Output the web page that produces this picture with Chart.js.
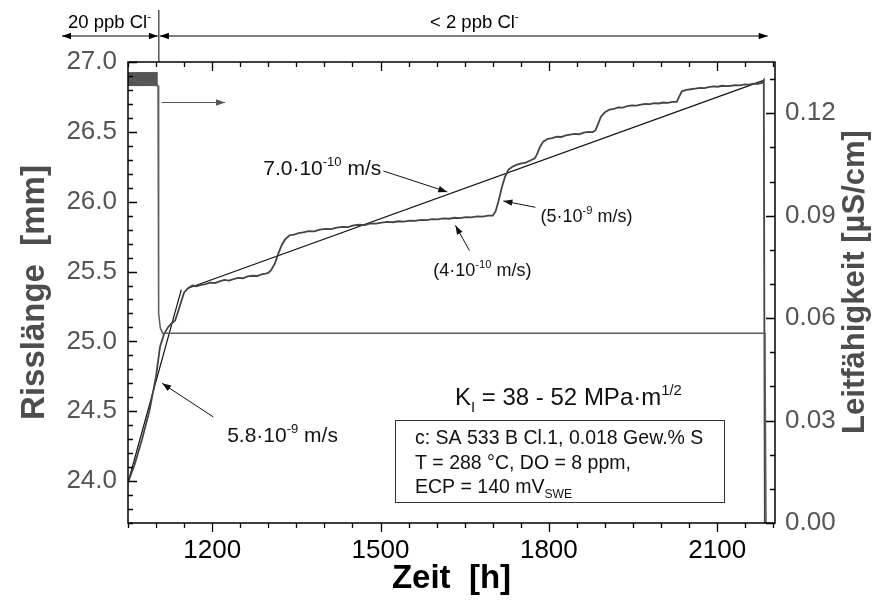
<!DOCTYPE html>
<html>
<head>
<meta charset="utf-8">
<script src="https://cdn.jsdelivr.net/npm/chart.js@4.4.1/dist/chart.umd.min.js"></script>
<style>
  html, body { margin: 0; padding: 0; background: #fff; }
  #wrap { width: 889px; height: 602px; }
</style>
</head>
<body>
<div id="wrap"><canvas id="c" width="889" height="602"></canvas></div>
<script>
// Risslänge gegen Zeit
const crackTime = [1050, 1062, 1075, 1088, 1100, 1107, 1114, 1121, 1128, 1134, 1139, 1146, 1150, 1157,
  1165, 1172, 1180, 1188, 1196, 1205, 1213, 1222, 1230, 1238, 1246, 1255, 1263, 1272, 1280, 1288, 1295, 1300,
  1305, 1312, 1318, 1324, 1330, 1338, 1346, 1354, 1362,
  1372, 1382, 1392, 1402, 1412, 1422, 1432, 1442, 1452, 1462, 1472, 1482, 1492, 1502, 1512, 1522, 1532,
  1542, 1552, 1562, 1572, 1582, 1592, 1602, 1612, 1622, 1632, 1642, 1652, 1662, 1672, 1682, 1692, 1700,
  1705, 1710, 1716, 1722, 1728, 1735, 1743, 1751, 1759, 1767, 1775,
  1779, 1784, 1790, 1798, 1806, 1814, 1822, 1830, 1838, 1846, 1854, 1862, 1870, 1878, 1883,
  1887, 1893, 1900, 1908, 1916, 1924, 1932, 1940, 1948, 1956, 1964, 1972, 1980, 1988, 1996, 2004, 2012, 2020, 2028,
  2032, 2037, 2045, 2053, 2061, 2069, 2077, 2085, 2093, 2101, 2109, 2117, 2125, 2133, 2141, 2149, 2157, 2165, 2173, 2180, 2183, 2185];
const crackLength = [23.99, 24.12, 24.30, 24.50, 24.75, 24.96, 25.05, 25.10, 25.13, 25.15, 25.21, 25.30, 25.35, 25.38,
  25.40, 25.395, 25.405, 25.41, 25.42, 25.418, 25.43, 25.44, 25.435, 25.445, 25.455, 25.452, 25.465, 25.47, 25.468, 25.48, 25.485, 25.49,
  25.51, 25.56, 25.63, 25.69, 25.73, 25.76, 25.765, 25.775, 25.78,
  25.79, 25.787, 25.80, 25.805, 25.803, 25.815, 25.82, 25.818, 25.83, 25.835, 25.833, 25.845, 25.843, 25.85, 25.855, 25.853, 25.86,
  25.858, 25.865, 25.863, 25.87, 25.868, 25.875, 25.873, 25.88, 25.878, 25.885, 25.883, 25.89, 25.888, 25.895, 25.893, 25.90, 25.90,
  25.93, 26.00, 26.10, 26.18, 26.23, 26.25, 26.265, 26.275, 26.28, 26.295, 26.31,
  26.34, 26.39, 26.43, 26.45, 26.455, 26.465, 26.463, 26.475, 26.48, 26.485, 26.483, 26.495, 26.50, 26.498, 26.51,
  26.55, 26.61, 26.64, 26.66, 26.665, 26.675, 26.673, 26.685, 26.69, 26.688, 26.695, 26.70, 26.698, 26.705, 26.703, 26.71, 26.708, 26.715, 26.715,
  26.75, 26.79, 26.80, 26.805, 26.81, 26.815, 26.813, 26.82, 26.825, 26.823, 26.83, 26.828, 26.83, 26.835, 26.833, 26.84, 26.838, 26.845, 26.843, 26.85, 26.87, 23.5];

// Ausgleichsgeraden
const fitFastTime = [1050, 1145];
const fitFastLength = [23.99, 25.37];
const fitSlowTime = [1157, 2184];
const fitSlowLength = [25.38, 26.87];

// Leitfähigkeit [µS/cm]
const condTime = [1050, 1103.5, 1104.6, 1107.6, 1111.7, 2185, 2187];
const condValue = [0.130, 0.128, 0.0615, 0.0571, 0.0556, 0.0556, 0.0];
const condBandTime = [1050, 1103];
const condBandValue = [0.130, 0.130];

// Achsen
const timeTicks = [1200, 1500, 1800, 2100];
const lengthTicks = [24.0, 24.5, 25.0, 25.5, 26.0, 26.5, 27.0];
const condTicks = [0, 0.03, 0.06, 0.09, 0.12];

const FONT = "'Liberation Sans', Arial, sans-serif";
const pts = (xs, ys) => xs.map((x, i) => ({ x: x, y: ys[i] }));

function drawRich(ctx, parts, x, y, size, color) {
  ctx.fillStyle = color;
  ctx.textBaseline = 'alphabetic';
  ctx.textAlign = 'left';
  let cx = x;
  parts.forEach(([t, m]) => {
    const s = m ? size * 0.62 : size;
    ctx.font = s + 'px ' + FONT;
    const dy = m === 'sup' ? -size * 0.42 : (m === 'sub' ? size * 0.28 : 0);
    ctx.fillText(t, cx, y + dy);
    cx += ctx.measureText(t).width;
  });
}

function arrowHead(ctx, x1, y1, x2, y2) {
  const a = Math.atan2(y2 - y1, x2 - x1);
  const hl = 9, hw = 3.2;
  ctx.beginPath();
  ctx.moveTo(x2, y2);
  ctx.lineTo(x2 - Math.cos(a) * hl - Math.sin(a) * hw, y2 - Math.sin(a) * hl + Math.cos(a) * hw);
  ctx.lineTo(x2 - Math.cos(a) * hl + Math.sin(a) * hw, y2 - Math.sin(a) * hl - Math.cos(a) * hw);
  ctx.closePath();
  ctx.fill();
}

function drawArrow(ctx, x1, y1, x2, y2, color, both) {
  ctx.strokeStyle = color;
  ctx.fillStyle = color;
  ctx.lineWidth = 1;
  ctx.beginPath();
  ctx.moveTo(x1, y1);
  ctx.lineTo(x2, y2);
  ctx.stroke();
  arrowHead(ctx, x1, y1, x2, y2);
  if (both) arrowHead(ctx, x2, y2, x1, y1);
}

// Rahmen, Ticks und Beschriftungen
const decoPlugin = {
  id: 'deco',
  afterDraw(chart) {
    const ctx = chart.ctx;
    const a = chart.chartArea;
    const xs = chart.scales.x, ys = chart.scales.y, y2 = chart.scales.y2;
    ctx.save();

    // Rahmen
    ctx.strokeStyle = '#000';
    ctx.lineWidth = 1.5;
    ctx.strokeRect(a.left, a.top, a.right - a.left, a.bottom - a.top);

    ctx.lineWidth = 1.3;
    ctx.beginPath();
    for (let t = 1050; t <= 2200; t += 50) {
      const px = Math.round(xs.getPixelForValue(t)) + 0.5;
      const L = timeTicks.includes(t) ? 9 : 5;
      ctx.moveTo(px, a.bottom); ctx.lineTo(px, a.bottom + L);
      ctx.moveTo(px, a.top); ctx.lineTo(px, a.top + L);
    }
    for (let i = 0; i <= 33; i++) {
      const v = 23.7 + i * 0.1;
      const py = Math.round(ys.getPixelForValue(v)) + 0.5;
      const major = lengthTicks.some(t => Math.abs(t - v) < 1e-6);
      ctx.moveTo(a.left, py); ctx.lineTo(a.left + (major ? 9 : 5), py);
    }
    for (let i = 0; i <= 13; i++) {
      const v = i * 0.01;
      const py = Math.round(y2.getPixelForValue(v)) + 0.5;
      const major = condTicks.some(t => Math.abs(t - v) < 1e-6);
      ctx.moveTo(a.right, py); ctx.lineTo(a.right - (major ? 9 : 5), py);
    }
    ctx.stroke();

    // rechter Achsentitel
    ctx.save();
    ctx.translate(855, 282);
    ctx.rotate(-Math.PI / 2);
    ctx.fillStyle = '#4d4d4d';
    ctx.font = 'bold 31px ' + FONT;
    ctx.textAlign = 'center';
    ctx.textBaseline = 'middle';
    ctx.fillText('Leitfähigkeit [µS/cm]', 0, 0);
    ctx.restore();

    // Chlorid-Bereiche oben
    const xSep = xs.getPixelForValue(1105);
    ctx.strokeStyle = '#000';
    ctx.lineWidth = 1;
    ctx.beginPath();
    ctx.moveTo(xSep, 10); ctx.lineTo(xSep, a.top);
    ctx.stroke();
    drawArrow(ctx, 62, 36, xSep - 1, 36, '#000', true);
    drawArrow(ctx, xSep + 1, 36, xs.getPixelForValue(2190), 36, '#000', true);
    drawRich(ctx, [['20 ppb Cl'], ['-', 'sup']], 68, 28, 18.5, '#000');
    drawRich(ctx, [['< 2 ppb Cl'], ['-', 'sup']], 430, 28, 18.5, '#000');

    // Pfeil für Leitfähigkeit
    drawArrow(ctx, xs.getPixelForValue(1110), ys.getPixelForValue(26.71),
      xs.getPixelForValue(1223), ys.getPixelForValue(26.71), '#555');

    // Geschwindigkeiten
    const P = (t, v) => [xs.getPixelForValue(t), ys.getPixelForValue(v)];
    const arr = (f, t) => { const p = P(f[0], f[1]), q = P(t[0], t[1]); drawArrow(ctx, p[0], p[1], q[0], q[1], '#111'); };
    arr([1505, 26.22], [1619, 26.07]);
    arr([1776, 25.96], [1719, 26.005]);
    arr([1658.5, 25.65], [1633.5, 25.83]);
    arr([1201.7, 24.46], [1110.7, 24.70]);

    let p = P(1291, 26.19);
    drawRich(ctx, [['7.0·10'], ['-10', 'sup'], [' m/s']], p[0], p[1], 21, '#111');
    p = P(1785, 25.855);
    drawRich(ctx, [['(5·10'], ['-9', 'sup'], [' m/s)']], p[0], p[1], 18, '#111');
    p = P(1594, 25.47);
    drawRich(ctx, [['(4·10'], ['-10', 'sup'], [' m/s)']], p[0], p[1], 18, '#111');
    p = P(1226.7, 24.28);
    drawRich(ctx, [['5.8·10'], ['-9', 'sup'], [' m/s']], p[0], p[1], 21, '#111');

    // K-Bereich und Versuchsbedingungen
    drawRich(ctx, [['K'], ['I', 'sub'], [' = 38 - 52 MPa·m'], ['1/2', 'sup']], 455, 405, 24, '#111');
    ctx.strokeStyle = '#333';
    ctx.lineWidth = 1;
    ctx.strokeRect(395.5, 420.5, 329, 82);
    drawRich(ctx, [['c: SA 533 B Cl.1, 0.018 Gew.% S']], 415, 444, 19.5, '#111');
    drawRich(ctx, [['T = 288 °C, DO = 8 ppm,']], 415, 468.5, 19.5, '#111');
    drawRich(ctx, [['ECP = 140 mV'], ['SWE', 'sub']], 415, 493, 19.5, '#111');

    ctx.restore();
  }
};

new Chart(document.getElementById('c'), {
  type: 'line',
  data: {
    datasets: [
      { label: 'Leitfähigkeit', data: pts(condTime, condValue), yAxisID: 'y2',
        borderColor: '#5c5c5c', borderWidth: 1.5, pointRadius: 0, tension: 0 },
      { label: 'Leitfähigkeit 20 ppb', data: pts(condBandTime, condBandValue), yAxisID: 'y2',
        borderColor: '#555', borderWidth: 14, borderCapStyle: 'butt', pointRadius: 0 },
      { label: 'Risslänge', data: pts(crackTime, crackLength), yAxisID: 'y',
        borderColor: '#444', borderWidth: 1.8, pointRadius: 0, tension: 0 },
      { label: '5.8e-9', data: pts(fitFastTime, fitFastLength), yAxisID: 'y',
        borderColor: '#111', borderWidth: 1.2, pointRadius: 0 },
      { label: '7.0e-10', data: pts(fitSlowTime, fitSlowLength), yAxisID: 'y',
        borderColor: '#111', borderWidth: 1.2, pointRadius: 0 }
    ]
  },
  options: {
    responsive: false,
    animation: false,
    devicePixelRatio: 1,
    layout: { padding: { top: 62, left: 0, right: 0, bottom: 0 } },
    plugins: { legend: { display: false }, tooltip: { enabled: false } },
    scales: {
      x: {
        type: 'linear', position: 'bottom', min: 1050, max: 2203,
        grid: { display: false, drawTicks: false }, border: { display: false },
        afterBuildTicks: s => { s.ticks = timeTicks.map(v => ({ value: v })); },
        afterFit: s => { s.height = 79; },
        ticks: { color: '#000', padding: 12, maxRotation: 0, font: { family: FONT, size: 26 },
          callback: v => String(v) },
        title: { display: true, text: 'Zeit  [h]', color: '#000', padding: { top: 0, bottom: 3 },
          font: { family: FONT, size: 33, weight: 'bold' } }
      },
      y: {
        type: 'linear', position: 'left', min: 23.7, max: 27.0,
        grid: { display: false, drawTicks: false }, border: { display: false },
        afterBuildTicks: s => { s.ticks = lengthTicks.map(v => ({ value: v })); },
        afterFit: s => { s.width = 128; },
        ticks: { color: '#555', padding: 11, font: { family: FONT, size: 26 },
          callback: v => v.toFixed(1) },
        title: { display: true, text: 'Risslänge  [mm]', color: '#4d4d4d', padding: { top: 15, bottom: 0 },
          font: { family: FONT, size: 33, weight: 'bold' } }
      },
      y2: {
        type: 'linear', position: 'right', min: 0, max: 0.135,
        grid: { display: false, drawTicks: false }, border: { display: false },
        afterBuildTicks: s => { s.ticks = condTicks.map(v => ({ value: v })); },
        afterFit: s => { s.width = 114; },
        ticks: { color: '#555', padding: 10, font: { family: FONT, size: 26 },
          callback: v => v.toFixed(2) }
      }
    }
  },
  plugins: [decoPlugin]
});
</script>
</body>
</html>
